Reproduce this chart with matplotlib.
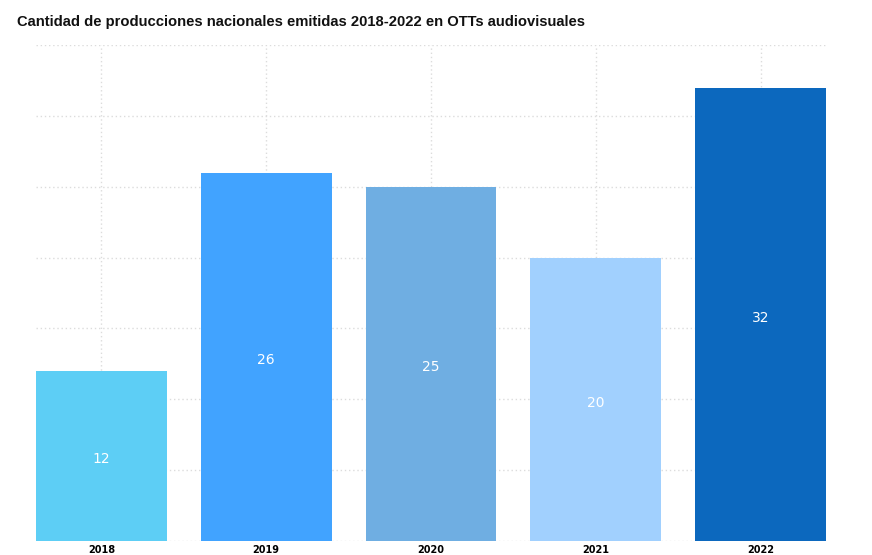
import matplotlib.pyplot as plt

years = ["2018", "2019", "2020", "2021", "2022"]
counts = [12, 26, 25, 20, 32]
colors = ["#5DCEF5", "#41A3FF", "#6FAEE2", "#A1D0FE", "#0C68BE"]

title = "Cantidad de producciones nacionales emitidas 2018-2022 en OTTs audiovisuales"

fig = plt.figure(figsize=(8.72, 5.55), dpi=100)
ax = fig.add_axes([36 / 872, 14 / 555, 790 / 872, 496 / 555])

x = list(range(len(years)))
bars = ax.bar(x, counts, width=0.794, color=colors, zorder=2)

# value labels centred in each bar
for rect, v in zip(bars, counts):
    ax.annotate(str(v), (rect.get_x() + rect.get_width() / 2, v / 2),
                xytext=(0, -2.5), textcoords="offset points",
                ha="center", va="center", color="white", fontsize=10,
                family=["Liberation Sans Narrow", "DejaVu Sans"])

ax.set_xlim(-0.397, len(years) - 1 + 0.397)
ax.set_ylim(0, 35)
ax.set_yticks(range(0, 36, 5))
ax.set_xticks(x)
ax.set_xticklabels(years, fontsize=7, fontweight="bold",
                   family=["Liberation Sans Narrow", "DejaVu Sans"])
ax.tick_params(axis="x", length=0, pad=3)
ax.tick_params(axis="y", length=0, labelleft=False)

ax.grid(True, linestyle=(0, (1, 2)), color="#dcdcdc", linewidth=1, zorder=0)
for s in ax.spines.values():
    s.set_visible(False)

fig.text(17 / 872, 1 - 22 / 555, title, fontsize=10.6, fontweight="bold",
         family=["Liberation Sans", "DejaVu Sans"], va="center", ha="left",
         color="#111111")

fig.savefig("out.png", dpi=100)
